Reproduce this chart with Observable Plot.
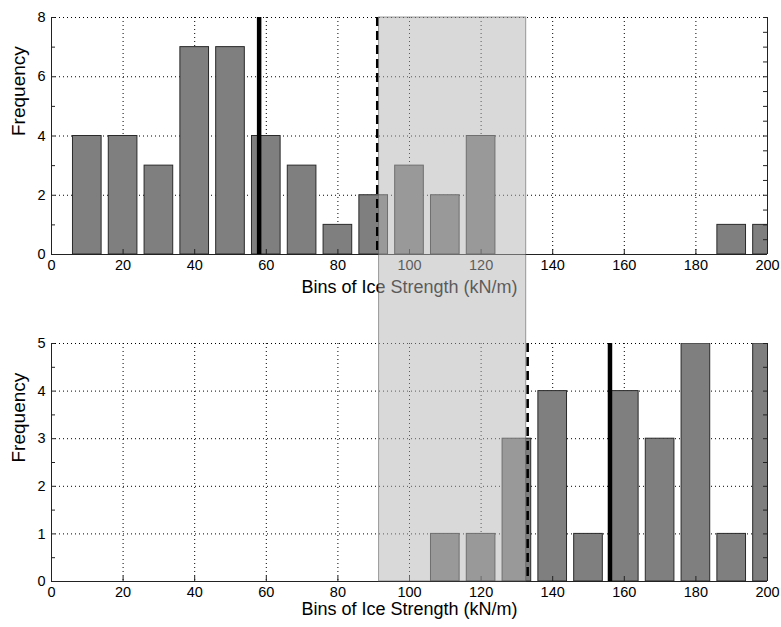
<!DOCTYPE html>
<html><head><meta charset="utf-8">
<script src="https://cdn.jsdelivr.net/npm/d3@7"></script>
<script src="https://cdn.jsdelivr.net/npm/@observablehq/plot@0.6"></script>
<style>
body{margin:0;background:#fff;}
#chart{width:781px;height:627px;}
#chart svg{display:block;overflow:hidden;}
</style></head><body><div id="chart"></div>
<script>
const bins = [10,20,30,40,50,60,70,80,90,100,110,120,130,140,150,160,170,180,190,200];
const topCounts = [4,4,3,7,7,4,3,1,2,3,2,4,0,0,0,0,0,0,1,1];
const bottomCounts = [0,0,0,0,0,0,0,0,0,0,1,1,3,4,1,4,3,5,1,5];
const xTicks = [0,20,40,60,80,100,120,140,160,180,200];
const topYTicks = [0,2,4,6,8];
const bottomYTicks = [0,1,2,3,4,5];
const topSolid = [58];
const topDashed = [91];
const bottomSolid = [156];
const bottomDashed = [133];
const shadeLow = [91.5];
const shadeHigh = [132.6];
const xLabel = "Bins of Ice Strength (kN/m)";
const yLabel = "Frequency";

const FONT = "Liberation Sans, Arial, Helvetica, sans-serif";
const W = 781, ML = 51, MR = 14;
const FW = W - ML - MR;
const HALF = 4; // bar half-width (bar width 0.8 of bin)

function panel({counts, yMax, yTicks, minorLeft, minorRight, solid, dashed, height, mt, mb, labelDy, shadeUp}) {
  const FH = height - mt - mb;
  const data = bins.map((b, i) => ({bin: b, count: counts[i]})).filter(d => d.count > 0);
  const shade = shadeLow.map((lo, i) => ({lo, hi: shadeHigh[i]}));
  return Plot.plot({
    width: W, height,
    marginLeft: ML, marginRight: MR, marginTop: mt, marginBottom: mb,
    style: {fontFamily: FONT, fontSize: "14px", overflow: "hidden", background: "white"},
    x: {domain: [0, 200], axis: null},
    y: {domain: [0, yMax], axis: null},
    marks: [
      Plot.ruleX(xTicks, {x: d => d, stroke: "#000", strokeDasharray: "1,3", strokeWidth: 1}),
      Plot.ruleY(yTicks, {y: d => d, stroke: "#000", strokeDasharray: "1,3", strokeWidth: 1}),
      Plot.rect(data, {x1: d => d.bin - HALF, x2: d => d.bin + HALF, y1: 0, y2: "count",
        fill: "#7f7f7f", stroke: "#2a2a2a", strokeWidth: 1, clip: true}),
      Plot.ruleX([0, 200], {x: d => d, stroke: "#222", strokeWidth: 1}),
      Plot.ruleY([0], {y: d => d, stroke: "#222", strokeWidth: 1}),
      Plot.ruleX(xTicks, {x: d => d, stroke: "#222", insetTop: FH - 5}),
      Plot.ruleY(minorLeft, {y: d => d, stroke: "#222", insetRight: FW - 4}),
      Plot.ruleY(minorRight, {y: d => d, stroke: "#222", insetLeft: FW - 4}),
      Plot.ruleX(solid, {x: d => d, stroke: "#000", strokeWidth: 4.5}),
      Plot.ruleX(dashed, {x: d => d, stroke: "#000", strokeWidth: 2.6, strokeDasharray: "9,5"}),
      Plot.text(xTicks, {x: d => d, text: d => String(d), frameAnchor: "bottom", dy: 15, fontSize: 14.5, fill: "#000"}),
      Plot.text(yTicks, {y: d => d, text: d => String(d), frameAnchor: "left", dx: -6, textAnchor: "end", fontSize: 14.5, fill: "#000"}),
      Plot.text([xLabel], {text: d => d, frameAnchor: "bottom", dy: labelDy, fontSize: 18, fill: "#000"}),
      Plot.text([yLabel], {text: d => d, frameAnchor: "left", dx: -32.5, rotate: -90, fontSize: 19, fill: "#000"}),
      Plot.rect(shade, {x1: "lo", x2: "hi", fill: "#b3b3b3", fillOpacity: 0.5,
        stroke: "#555", strokeOpacity: 0.55, strokeWidth: 1,
        insetBottom: shadeUp ? 0 : -(mb + 10), insetTop: shadeUp ? -(mt + 10) : 0})
    ]
  });
}

const halfSteps = n => d3.range(0, n + 0.001, 0.5);
const chart = document.getElementById("chart");
chart.append(panel({counts: topCounts, yMax: 8, yTicks: topYTicks,
  minorLeft: d3.range(0, 9, 1), minorRight: halfSteps(8),
  solid: topSolid, dashed: topDashed, height: 300, mt: 17, mb: 46, labelDy: 38, shadeUp: false}));
chart.append(panel({counts: bottomCounts, yMax: 5, yTicks: bottomYTicks,
  minorLeft: halfSteps(5), minorRight: halfSteps(5),
  solid: bottomSolid, dashed: bottomDashed, height: 327, mt: 43, mb: 46, labelDy: 33, shadeUp: true}));
</script></body></html>
